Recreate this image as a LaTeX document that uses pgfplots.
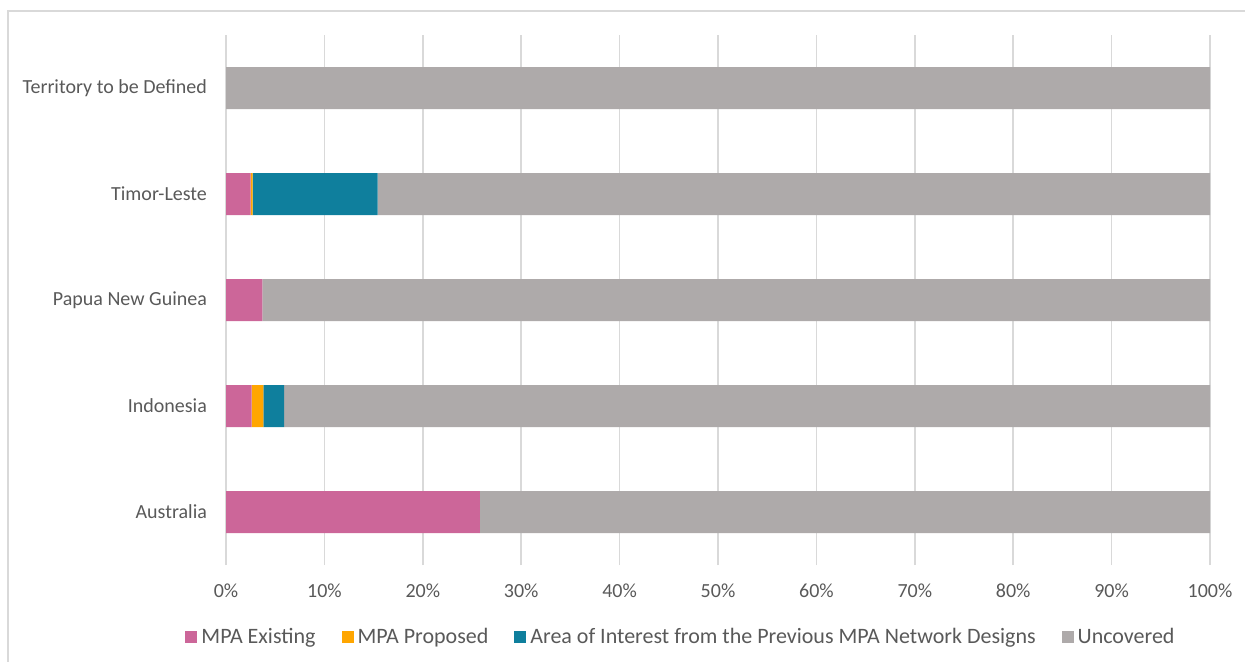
\documentclass[border=0pt]{standalone}
\usepackage{pgfplots}
\pgfplotsset{compat=1.18}
\usepackage{fontspec}
\setmainfont{Carlito}
\definecolor{existing}{HTML}{CC6699}
\definecolor{proposed}{HTML}{FFA600}
\definecolor{interest}{HTML}{0F7F9D}
\definecolor{uncovered}{HTML}{AEAAAA}
\definecolor{gridgray}{HTML}{D9D9D9}
\definecolor{textgray}{HTML}{595959}
\begin{document}
\begin{tikzpicture}
\useasboundingbox (0pt,0pt) rectangle (622.5pt,330.5pt);
\draw[color=gridgray, line width=0.75pt] (4pt,-2pt) -- (4pt,325pt) -- (626pt,325pt);
\begin{axis}[
    at={(113pt,48pt)}, anchor=south west,
    scale only axis,
    width=492pt, height=265pt,
    xbar stacked,
    bar width=21pt,
    xmin=0, xmax=100,
    ymin=-0.5, ymax=4.5,
    ytick={0,1,2,3,4},
    yticklabels={Australia,Indonesia,Papua New Guinea,Timor-Leste,Territory to be Defined},
    xtick={0,10,...,100},
    xticklabels={0\%,10\%,20\%,30\%,40\%,50\%,60\%,70\%,80\%,90\%,100\%},
    axis line style={draw=none},
    major tick length=0pt,
    tick style={draw=none},
    xmajorgrids,
    grid style={color=gridgray, line width=0.75pt},
    ticklabel style={font=\fontsize{10}{12}\selectfont, text=textgray},
    xticklabel style={yshift=-6pt},
    yticklabel style={xshift=-6pt},
    legend columns=4,
    legend style={
        at={(0.4634,-0.1358)}, anchor=center,
        draw=none, fill=none,
        font=\fontsize{11}{13}\selectfont, text=textgray,
        /tikz/every even column/.append style={column sep=11pt},
    },
    legend image code/.code={\fill[#1] (0pt,-3pt) rectangle (6pt,3pt);},
    every axis plot/.append style={draw=none},
]
\addplot[fill=existing] coordinates {(25.8,0) (2.6,1) (3.7,2) (2.5,3) (0,4)};
\addplot[fill=proposed] coordinates {(0,0) (1.2,1) (0,2) (0.2,3) (0,4)};
\addplot[fill=interest] coordinates {(0,0) (2.1,1) (0,2) (12.7,3) (0,4)};
\addplot[fill=uncovered] coordinates {(74.2,0) (94.1,1) (96.3,2) (84.6,3) (100,4)};
\legend{MPA Existing, MPA Proposed, Area of Interest from the Previous MPA Network Designs, Uncovered}
\end{axis}
\end{tikzpicture}
\end{document}
